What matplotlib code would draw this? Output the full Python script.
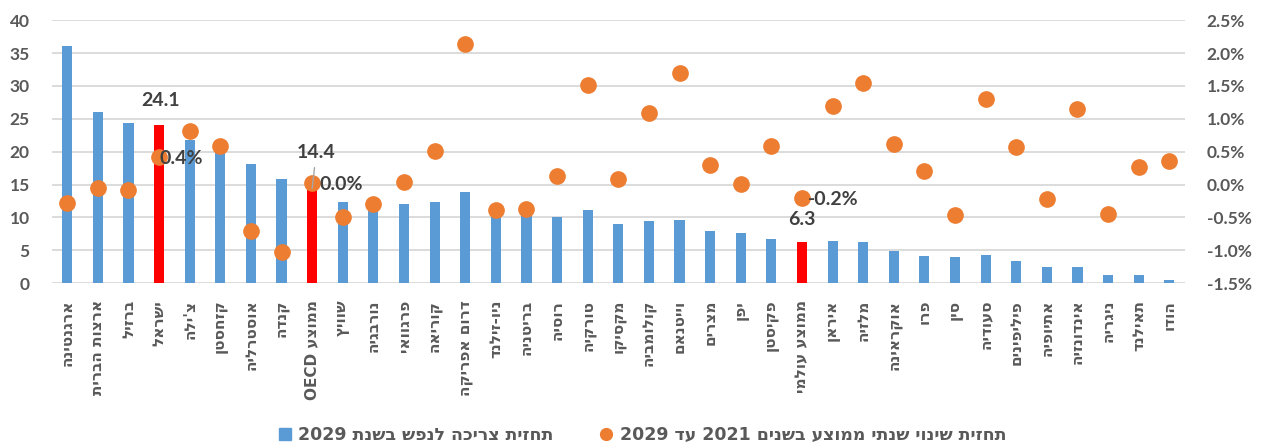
import matplotlib.pyplot as plt
from matplotlib.lines import Line2D
from matplotlib.ticker import FuncFormatter, MultipleLocator

countries = ["ארגנטינה", "ארצות הברית", "ברזיל", "ישראל", "צ'ילה", "קזחסטן",
             "אוסטרליה", "קנדה", "ממוצע OECD", "שוויץ", "נורבגיה", "פרגוואי",
             "קוריאה", "דרום אפריקה", "ניו-זילנד", "בריטניה", "רוסיה", "טורקיה",
             "מקסיקו", "קולומביה", "וייטנאם", "מצרים", "יפן", "פקיסטן",
             "ממוצע עולמי", "איראן", "מלזיה", "אוקראינה", "פרו", "סין", "סעודיה",
             "פיליפינים", "אתיופיה", "אינדונזיה", "ניגריה", "תאילנד", "הודו"]

consumption_2029 = [36.0, 26.0, 24.4, 24.1, 21.8, 20.3, 18.1, 15.9, 14.4, 12.4,
                    11.8, 12.1, 12.4, 13.8, 10.8, 10.7, 10.1, 11.1, 9.0, 9.5,
                    9.6, 8.0, 7.6, 6.7, 6.3, 6.4, 6.2, 4.9, 4.2, 3.9, 4.3,
                    3.3, 2.4, 2.4, 1.2, 1.2, 0.5]

annual_change = [-0.28, -0.06, -0.09, 0.42, 0.81, 0.59, -0.70, -1.03, 0.02, -0.50,
                 -0.29, 0.04, 0.51, 2.13, -0.38, -0.37, 0.13, 1.52, 0.09, 1.09,
                 1.69, 0.29, 0.01, 0.59, -0.20, 1.20, 1.55, 0.61, 0.20, -0.47,
                 1.30, 0.57, -0.22, 1.15, -0.45, 0.26, 0.36]

highlight = ["ישראל", "ממוצע OECD", "ממוצע עולמי"]

bar_label = "תחזית צריכה לנפש בשנת 2029"
dot_label = "תחזית שינוי שנתי ממוצע בשנים 2021 עד 2029"

BLUE = '#5B9BD5'
RED = '#FF0000'
ORANGE = '#ED7D31'
GRID = '#D9D9D9'
TEXT = '#595959'
DARK = '#404040'


def visual(s):
    # matplotlib has no bidi support, so put the Hebrew in display order
    out = []
    for w in reversed(s.split(' ')):
        if any('\u0590' <= c <= '\u05ff' for c in w):
            out.append(w[::-1])
        else:
            out.append(w)
    return ' '.join(out)


plt.rcParams['font.family'] = ['Lato', 'Liberation Sans', 'DejaVu Sans']
plt.rcParams['font.weight'] = 'bold'

fig = plt.figure(figsize=(12.67, 4.48), dpi=100)
ax = fig.add_axes([0.041, 0.368, 0.894, 0.587])
ax2 = ax.twinx()

x = list(range(len(countries)))
colors = [RED if c in highlight else BLUE for c in countries]
ax.bar(x, consumption_2029, width=0.33, color=colors, zorder=2)
ax2.plot(x, annual_change, 'o', color=ORANGE, markersize=11, zorder=3)

ax.set_xlim(-0.5, len(countries) - 0.5)
ax.set_ylim(0, 40)
ax.yaxis.set_major_locator(MultipleLocator(5))
ax2.set_ylim(-1.5, 2.5)
ax2.yaxis.set_major_locator(MultipleLocator(0.5))
ax2.yaxis.set_major_formatter(FuncFormatter(lambda v, p: f"{v:.1f}%"))

ax.grid(axis='y', color=GRID, linewidth=1.3, zorder=0)
ax.set_axisbelow(True)
for a in (ax, ax2):
    for sp in a.spines.values():
        sp.set_visible(False)
    a.tick_params(length=0, colors=TEXT, labelsize=12.5, pad=16)

ax.set_xticks(x)
ax.set_xticklabels([visual(c) for c in countries], rotation=90,
                   family=['DejaVu Sans'], fontsize=11, color=TEXT)
ax.tick_params(axis='x', pad=12)
ax.set_zorder(ax2.get_zorder() - 1)
ax.patch.set_visible(False)

# data labels
i_isr = countries.index("ישראל")
i_oecd = countries.index("ממוצע OECD")
i_world = countries.index("ממוצע עולמי")
ax2.annotate(f"{consumption_2029[i_isr]:.1f}",
             xy=(i_isr, consumption_2029[i_isr] / 10 - 1.5), xytext=(1, 11),
             textcoords='offset points', ha='center', va='bottom',
             fontsize=14, color=DARK, zorder=5)
ax2.annotate(f"{consumption_2029[i_oecd]:.1f}",
             xy=(i_oecd, consumption_2029[i_oecd] / 10 - 1.5), xytext=(3, 20),
             textcoords='offset points', ha='center', va='bottom',
             fontsize=14, color=DARK, zorder=5,
             arrowprops=dict(arrowstyle='-', color='#A6A6A6', lw=1, shrinkA=3, shrinkB=0))
ax2.annotate(f"{consumption_2029[i_world]:.1f}",
             xy=(i_world, consumption_2029[i_world] / 10 - 1.5), xytext=(0, 10),
             textcoords='offset points', ha='center', va='bottom',
             fontsize=14, color=DARK, zorder=5)

for i, dx in ((i_isr, 0), (i_oecd, 5), (i_world, 4)):
    ax2.annotate(f"{annual_change[i]:.1f}%", xy=(i, annual_change[i]), xytext=(dx, -1),
                 textcoords='offset points', ha='left', va='center',
                 fontsize=14, color=DARK, zorder=5)

handles = [Line2D([], [], marker='s', linestyle='none', color=BLUE, markersize=8),
           Line2D([], [], marker='o', linestyle='none', color=ORANGE, markersize=8.5)]
fig.legend(handles, [visual(bar_label), visual(dot_label)], loc='center',
           bbox_to_anchor=(0.506, 0.028), ncol=2, frameon=False,
           prop={'family': ['DejaVu Sans'], 'weight': 'bold', 'size': 12.5},
           labelcolor=TEXT, handletextpad=0.3, columnspacing=2.5, handlelength=1)

fig.savefig('out.png', dpi=100)
